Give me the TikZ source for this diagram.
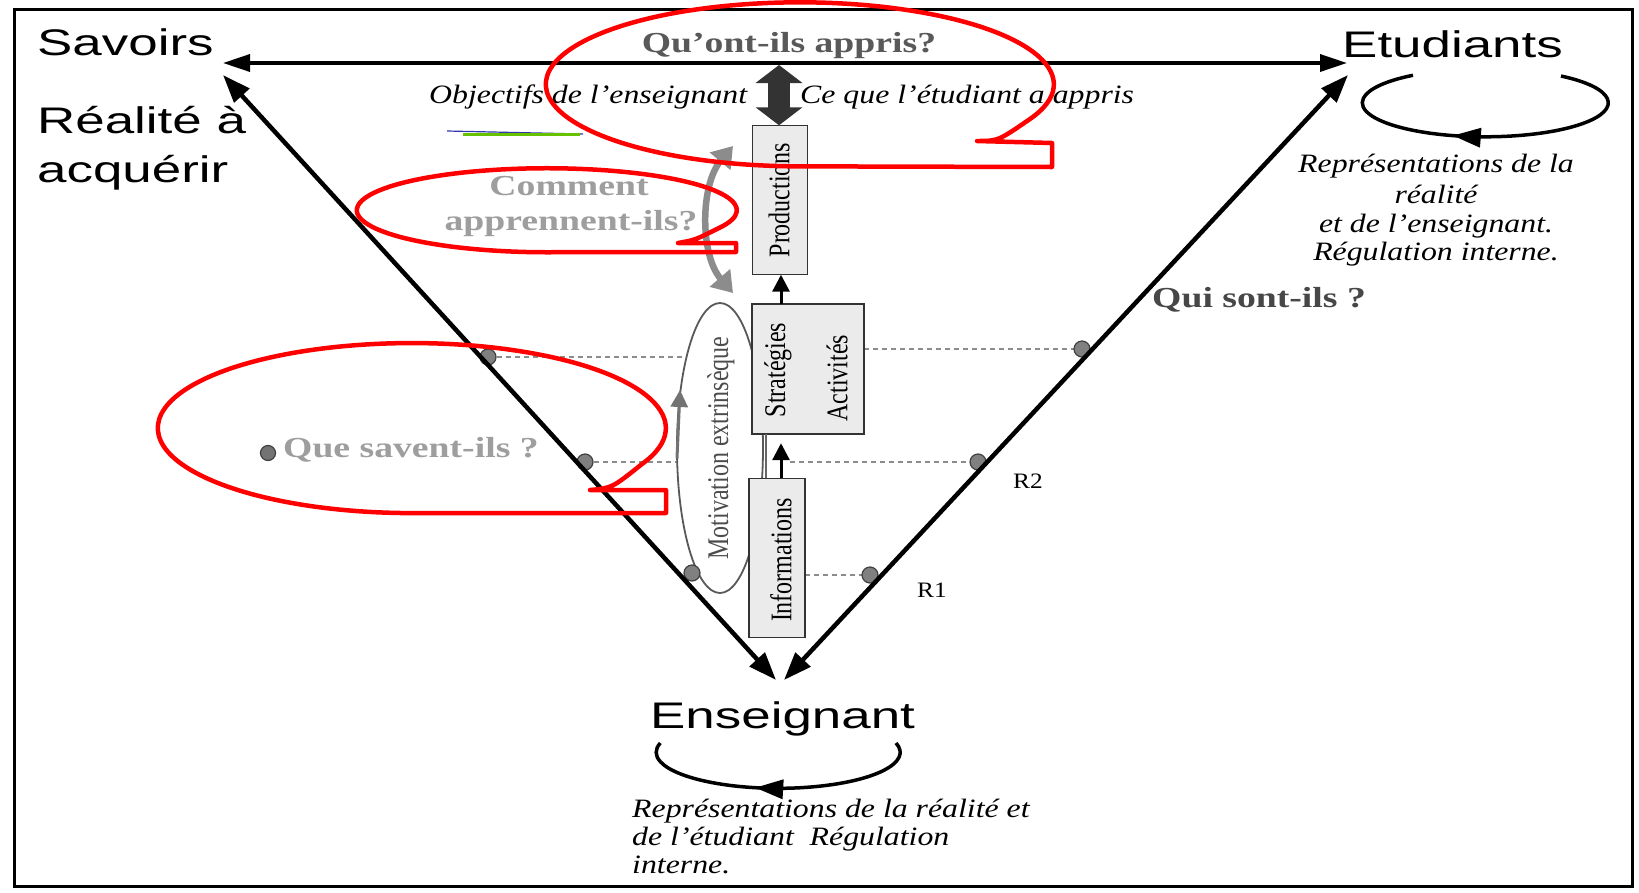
\documentclass[tikz,border=0pt]{standalone}
\usepackage{fontspec}
\setmainfont{Liberation Serif}
\newfontfamily\sansW{Liberation Sans}[FakeStretch=1.43]
\newfontfamily\serI{Liberation Serif}[FakeStretch=1.2]
\newfontfamily\serB{Liberation Serif}[FakeStretch=1.3]
\newfontfamily\serR{Liberation Serif}[FakeStretch=0.8]
\newfontfamily\serN{Liberation Serif}[FakeStretch=1.15]
\usetikzlibrary{arrows.meta,decorations.markings,shapes.geometric}
\begin{document}
\begin{tikzpicture}[x=1pt,y=-1pt,
  bigtxt/.style={font=\sansW\fontsize{37}{44}\selectfont, inner sep=0pt},
  captxt/.style={font=\serI\itshape\fontsize{26.5}{30}\selectfont, inner sep=0pt},
  quest/.style={font=\serB\bfseries\fontsize{29}{34}\selectfont, inner sep=0pt},
  rlab/.style={font=\serN\fontsize{22}{26}\selectfont, inner sep=0pt},
  rottxt/.style={font=\serR\fontsize{30}{34}\selectfont, rotate=90, inner sep=0pt},
  boxst/.style={draw=black!80, line width=1.8pt, fill=black!8, inner sep=0pt},
  bigarrow/.style={line width=4.5pt, {Triangle[length=28pt,width=20pt]}-{Triangle[length=28pt,width=20pt]}},
  harrow/.style={line width=3.5pt, {Triangle[length=27pt,width=17pt]}-{Triangle[length=27pt,width=17pt]}},
  dotline/.style={draw=black!45, line width=2.2pt, dash pattern=on 5pt off 4pt},
  gdot/.style={circle, fill=black!50, draw=black!75, line width=1.2pt, minimum size=16pt, inner sep=0pt},
  redb/.style={draw=red, line width=4.5pt, line join=round},
  smallarrow/.style={line width=3pt, -{Triangle[length=17pt,width=17pt]}},
  loopst/.style={line width=3.5pt, postaction={decorate, decoration={markings, mark=at position #1 with {\arrow{Triangle[length=28pt,width=19pt]}}}}}
]
\useasboundingbox (0,0) rectangle (1639,892);
\fill[white] (0,0) rectangle (1639,892);
% frame
\draw[line width=3pt] (14,9) rectangle (1632,886);

% coordinates
\coordinate (savH) at (223,63);
\coordinate (etuH) at (1347,63);
\coordinate (savT) at (223,75);
\coordinate (etuT) at (1348,75);
\coordinate (ensL) at (776,680);
\coordinate (ensR) at (784,680);
\coordinate (motc) at (720,448);
\coordinate (ax) at (781,0);
\coordinate (vl) at (766,0);
\coordinate (bx) at (790,0);

% dot positions
\coordinate (dL1) at (488,357);
\coordinate (dL2) at (585,462);
\coordinate (dL3) at (692,573);
\coordinate (dR1) at (1082,349);
\coordinate (dR2) at (978,462);
\coordinate (dR3) at (870,575);

% box placement
\path (780,200) node[minimum width=55pt, minimum height=149pt, inner sep=0pt] (prod) {};
\path (808,369) node[minimum width=112pt, minimum height=130pt, inner sep=0pt] (strat) {};
\path (777,558) node[minimum width=56pt, minimum height=159pt, inner sep=0pt] (info) {};

% dotted lines
\draw[dotline] (dL1) -- (dL1 -| motc);
\draw[dotline] (dL2) -- (dL2 -| motc);
\draw[dotline] (strat.east |- dR1) -- (dR1);
\draw[dotline] (bx |- dR2) -- (dR2);
\draw[dotline] (info.east |- dR3) -- (dR3);

% motivation ellipse
\node[ellipse, draw=black!65, line width=1.8pt, fill=white, minimum width=86pt, minimum height=290pt, inner sep=0pt] (mot) at (motc) {};
\node[rottxt, text=black!70] (mottxt) at (721,448) {Motivation extrinsèque};
\coordinate (m1) at (677,458);
\coordinate (m2) at (680,390);
\draw[smallarrow, draw=black!55, fill=black!55] (m1) -- (m2);

% boxes drawn
\node[boxst, minimum width=55pt, minimum height=149pt] (prodb) at (prod) {};
\node[boxst, minimum width=112pt, minimum height=130pt] (stratb) at (strat) {};
\node[boxst, minimum width=56pt, minimum height=159pt] (infob) at (info) {};
\node[rottxt] (prodtxt) at (779,200) {Productions};
\node[rottxt] (strattxt) at (778,370) {Stratégies};
\node[rottxt] (acttxt) at (837,378) {Activités};
\node[rottxt] (infotxt) at (781,560) {Informations};

% dots
\node[gdot] (nL1) at (dL1) {};
\node[gdot] (nL2) at (dL2) {};
\node[gdot] (nL3) at (dL3) {};
\node[gdot] (nR1) at (dR1) {};
\node[gdot] (nR2) at (dR2) {};
\node[gdot] (nR3) at (dR3) {};

% box arrows
\draw[line width=1.8pt, draw=black!60] (strat.south -| vl) -- (info.north -| vl);
\draw[smallarrow] (info.north -| ax) -- ([yshift=-9pt]strat.south -| ax);
\draw[smallarrow] (strat.north -| ax) -- (prod.south -| ax);

% dark double arrow
\coordinate (qtop) at (779,65);
\draw[line width=22pt, draw=black!80, {Triangle[length=18pt,width=46pt]}-{Triangle[length=18pt,width=46pt]}] (qtop) -- (prod.north -| qtop);

% gray curved arrow
\coordinate (ga1) at (733,146);
\coordinate (ga2) at (733,293);
\draw[line width=6.5pt, draw=black!45, {Triangle[length=20pt,width=26pt]}-{Triangle[length=20pt,width=26pt]}] (ga1) .. controls (700,185) and (700,255) .. (ga2);

% main arrows
\draw[harrow] (savH) -- (etuH);
\draw[bigarrow] (savT) -- (ensL);
\draw[bigarrow] (etuT) -- (ensR);

% loops
\draw[loopst=0.58] (1561,76) arc[start angle=-52, end angle=234, x radius=123, y radius=34];
\draw[loopst=0.58] (896,743) arc[start angle=-15, end angle=195, x radius=122, y radius=36];

% texts
\node[bigtxt, anchor=base west] (sav) at (37,55) {Savoirs};
\node[bigtxt, anchor=base west] (rea1) at (37,133) {Réalité à};
\node[bigtxt, anchor=base west] (rea2) at (37,182) {acquérir};
\node[bigtxt, anchor=base west] (etu) at (1342,57) {Etudiants};
\node[bigtxt, anchor=base west] (ens) at (650,728) {Enseignant};

\node[quest, text=black!65, anchor=base] (qoa) at (789,52) {Qu’ont-ils appris?};
\node[captxt, anchor=base west] (obj) at (429,103) {Objectifs de l’enseignant};
\node[captxt, anchor=base west] (ceq) at (800,103) {Ce que l’étudiant a appris};
\node[quest, text=black!38, anchor=base] (com1) at (569,195) {Comment};
\node[quest, text=black!38, anchor=base] (com2) at (571,230) {apprennent-ils?};
\node[circle, fill=black!55, draw=black!75, line width=1.2pt, minimum size=15pt, inner sep=0pt] (qsdot) at (268,453) {};
\node[quest, text=black!38, anchor=base west] (qsi) at (283,457) {Que savent-ils ?};
\node[quest, text=black!72, anchor=base west] (qso) at (1152,307) {Qui sont-ils ?};
\node[rlab, anchor=base west] (r2) at (1013,488) {R2};
\node[rlab, anchor=base west] (r1) at (917,597) {R1};

\node[captxt, anchor=base] (ec1) at (1436,172) {Représentations de la};
\node[captxt, anchor=base] (ec2) at (1436,203) {réalité};
\node[captxt, anchor=base] (ec3) at (1436,232) {et de l’enseignant.};
\node[captxt, anchor=base] (ec4) at (1436,260) {Régulation interne.};

\node[captxt, anchor=base west] (bc1) at (632,817) {Représentations de la réalité et};
\node[captxt, anchor=base west] (bc2) at (632,845) {de l’étudiant\ \ Régulation};
\node[captxt, anchor=base west] (bc3) at (632,873) {interne.};

% blue/green underline
\draw[line width=1.2pt, draw=blue!60!black!80] (447,131) -- (583,134);
\draw[line width=3pt, draw=green!60!black!60!yellow] (463,134.5) -- (580,134.5);

% red annotations
\draw[redb] (977,141) .. controls (998,141) .. (1030,119) arc[start angle=25, end angle=-270, x radius=254, y radius=82] -- (1052,167) -- (1052,143) -- cycle;
\draw[redb] (678,243) .. controls (695,240) .. (719,228) arc[start angle=25, end angle=-270, x radius=190, y radius=42] -- (736,252) -- (736,243) -- cycle;
\draw[redb] (590,490) .. controls (612,488) .. (642,464) arc[start angle=25, end angle=-270, x radius=254, y radius=85] -- (666,513) -- (666,490) -- cycle;
\end{tikzpicture}
\end{document}
